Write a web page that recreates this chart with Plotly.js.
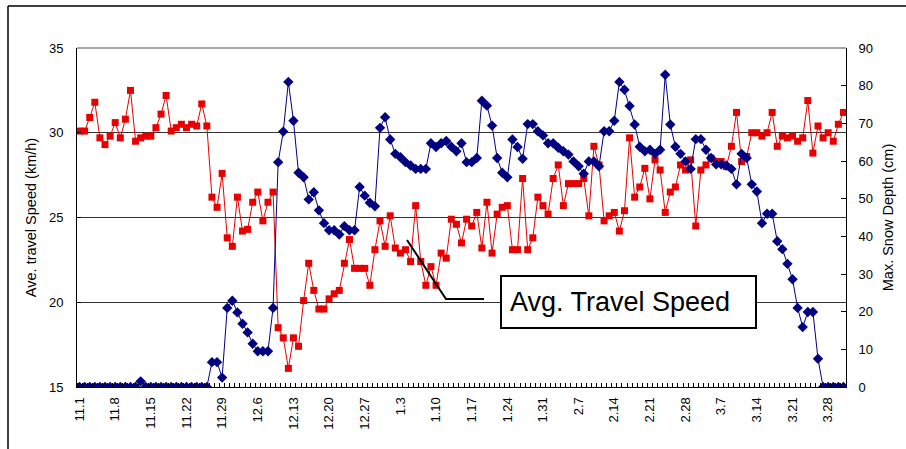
<!DOCTYPE html>
<html>
<head>
<meta charset="utf-8">
<script src="https://cdn.plot.ly/plotly-3.0.1.min.js"></script>
<style>
  html, body { margin: 0; padding: 0; background: #fff; }
  #chart { width: 906px; height: 449px; }
</style>
</head>
<body>
<div id="chart"></div>
<script>
// Dates (month.day), 1 Nov – 31 Mar
const categories = [
  "11.1","11.2","11.3","11.4","11.5","11.6","11.7","11.8","11.9","11.10",
  "11.11","11.12","11.13","11.14","11.15","11.16","11.17","11.18","11.19","11.20",
  "11.21","11.22","11.23","11.24","11.25","11.26","11.27","11.28","11.29","11.30",
  "12.1","12.2","12.3","12.4","12.5","12.6","12.7","12.8","12.9","12.10",
  "12.11","12.12","12.13","12.14","12.15","12.16","12.17","12.18","12.19","12.20",
  "12.21","12.22","12.23","12.24","12.25","12.26","12.27","12.28","12.29","12.30","12.31",
  "1.1","1.2","1.3","1.4","1.5","1.6","1.7","1.8","1.9","1.10",
  "1.11","1.12","1.13","1.14","1.15","1.16","1.17","1.18","1.19","1.20",
  "1.21","1.22","1.23","1.24","1.25","1.26","1.27","1.28","1.29","1.30","1.31",
  "2.1","2.2","2.3","2.4","2.5","2.6","2.7","2.8","2.9","2.10",
  "2.11","2.12","2.13","2.14","2.15","2.16","2.17","2.18","2.19","2.20",
  "2.21","2.22","2.23","2.24","2.25","2.26","2.27","2.28",
  "3.1","3.2","3.3","3.4","3.5","3.6","3.7","3.8","3.9","3.10",
  "3.11","3.12","3.13","3.14","3.15","3.16","3.17","3.18","3.19","3.20",
  "3.21","3.22","3.23","3.24","3.25","3.26","3.27","3.28","3.29","3.30","3.31"
];

// Average travel speed (km/h), left axis
const travelSpeed = [
  30.1,30.1,30.9,31.8,29.7,29.3,29.8,30.6,29.7,30.8,
  32.5,29.5,29.7,29.8,29.8,30.3,31.1,32.2,30.1,30.3,
  30.5,30.3,30.5,30.4,31.7,30.4,26.2,25.6,27.6,23.8,
  23.3,26.2,24.2,24.3,25.9,26.5,24.8,25.9,26.5,18.5,
  17.9,16.1,17.9,17.4,20.1,22.3,20.7,19.6,19.6,20.2,
  20.5,20.7,22.3,23.7,22.0,22.0,22.0,21.0,23.1,24.8,
  23.3,25.1,23.2,22.9,23.1,22.4,25.7,22.4,21.0,22.1,
  21.0,22.9,22.6,24.9,24.6,23.5,24.9,24.5,25.3,23.2,
  25.9,22.9,25.2,25.6,25.7,23.1,23.1,27.3,23.1,23.8,
  26.2,25.7,25.2,27.3,28.1,25.7,27.0,27.0,27.0,27.3,
  25.1,29.2,28.1,24.8,25.1,25.3,24.2,25.4,29.7,26.2,
  26.8,27.9,26.1,28.4,27.8,25.3,26.5,26.8,28.1,27.8,
  28.4,24.5,27.8,28.1,28.5,28.3,28.3,28.0,29.2,31.2,
  28.3,28.6,30.0,30.0,29.8,30.0,31.2,29.2,29.8,29.7,
  29.8,29.5,29.7,31.9,28.8,30.4,29.7,30.0,29.5,30.5,
  31.2
];

// Maximum snow depth (cm), right axis
const snowDepth = [
  0,0,0,0,0,0,0,0,0,0,
  0,0,1.5,0,0,0,0,0,0,0,
  0,0,0,0,0,0,6.6,6.6,2.5,21.0,
  22.9,19.8,16.8,14.5,11.5,9.5,9.5,9.5,21.0,59.7,
  67.8,81.0,70.7,56.9,55.7,49.8,51.7,46.9,43.5,41.6,
  41.6,40.5,42.7,41.6,41.6,53.1,50.8,48.9,48.0,68.8,
  71.6,65.7,61.9,61.0,59.7,58.8,57.9,57.9,57.9,64.7,
  63.7,64.7,65.3,63.8,62.6,64.7,59.7,59.7,60.8,76.0,
  74.7,69.4,60.8,56.9,55.7,65.7,63.7,60.6,69.8,69.8,
  67.9,66.8,64.7,64.7,63.5,62.6,61.7,59.9,58.6,56.6,
  59.9,59.9,58.6,67.9,67.9,70.7,81.0,78.9,74.6,69.7,
  63.8,62.6,63.0,61.9,63.0,82.9,69.7,63.8,61.9,59.9,
  57.9,65.8,65.8,63.0,60.8,59.1,59.1,58.8,57.9,53.8,
  61.9,60.8,53.8,51.9,43.5,46.0,46.0,38.7,36.6,32.7,
  28.6,21.0,15.9,19.9,19.9,7.5,0,0,0,0,
  0
];

// Category labels shown on the x axis
const tickLabels = ["11.1","11.8","11.15","11.22","11.29","12.6","12.13","12.20","12.27",
  "1.3","1.10","1.17","1.24","1.31","2.7","2.14","2.21","2.28","3.7","3.14","3.21","3.28"];

const leftTitle = "Ave. travel Speed (km/h)";
const rightTitle = "Max. Snow Depth (cm)";
const calloutText = "Avg. Travel Speed";

const xIdx = categories.map((c, i) => i);
const tickIdx = tickLabels.map(t => categories.indexOf(t));

const FONT = "Liberation Sans, Arial, sans-serif";

const traces = [
  {
    x: xIdx, y: travelSpeed, yaxis: "y", type: "scatter", mode: "lines+markers",
    name: "Avg. Travel Speed",
    line: { color: "#e60000", width: 1 },
    marker: { symbol: "square", size: 7, color: "#e60000" },
    hoverinfo: "skip"
  },
  {
    x: xIdx, y: snowDepth, yaxis: "y2", type: "scatter", mode: "lines+markers",
    name: "Max. Snow Depth",
    line: { color: "#000080", width: 1 },
    marker: { symbol: "diamond", size: 8, color: "#000080" },
    hoverinfo: "skip"
  }
];

// helper: pixel -> paper coords (plot area 77..846 x, 48..387 y)
const L = 77, R = 846, T = 48, B = 387;
const px = v => (v - L) / (R - L);
const py = v => (B - v) / (B - T);

const layout = {
  width: 906, height: 449,
  margin: { l: L, r: 906 - R, t: T, b: 449 - B, pad: 0 },
  paper_bgcolor: "#fff", plot_bgcolor: "#fff",
  showlegend: false,
  font: { family: FONT, size: 13, color: "#000" },
  xaxis: {
    type: "linear", range: [-0.5, categories.length - 0.5],
    tickmode: "array", tickvals: tickIdx, ticktext: tickLabels,
    tickangle: -90, tickfont: { size: 13, family: FONT },
    ticklabelstandoff: 4,
    ticks: "", showgrid: false, zeroline: false,
    showline: true, linecolor: "#000", linewidth: 1,
    minor: { tickmode: "linear", tick0: -0.5, dtick: 1, ticks: "inside", ticklen: 4, tickcolor: "#000", tickwidth: 1, showgrid: false },
    fixedrange: true
  },
  yaxis: {
    range: [15, 35], dtick: 5, tick0: 15,
    showgrid: true, gridcolor: "#333", gridwidth: 1,
    zeroline: false, showline: true, linecolor: "#000", linewidth: 1,
    ticks: "inside", ticklen: 4, tickcolor: "#000",
    ticklabelstandoff: 10,
    tickfont: { size: 13, family: FONT },
    title: { text: leftTitle, font: { size: 14.5, family: FONT }, standoff: 8 },
    fixedrange: true
  },
  yaxis2: {
    overlaying: "y", side: "right",
    range: [0, 90], dtick: 10, tick0: 0,
    showgrid: false, zeroline: false, showline: true, linecolor: "#000", linewidth: 1,
    ticks: "inside", ticklen: 5, tickcolor: "#000",
    ticklabelstandoff: 9,
    tickfont: { size: 13, family: FONT },
    title: { text: rightTitle, font: { size: 14.5, family: FONT }, standoff: 10 },
    fixedrange: true
  },
  shapes: [
    // top border of plot area
    { type: "line", xref: "paper", yref: "paper", x0: 0, x1: 1, y0: 1, y1: 1, line: { color: "#888", width: 1.5 } },
    // outer chart frame (left + top)
    { type: "line", xref: "paper", yref: "paper", x0: px(8), x1: px(8), y0: py(6), y1: py(452), line: { color: "#000", width: 1.5 } },
    { type: "line", xref: "paper", yref: "paper", x0: px(8), x1: px(910), y0: py(6), y1: py(6), line: { color: "#000", width: 1.5 } },
    // callout leader
    { type: "path", xref: "paper", yref: "paper",
      path: "M " + px(407) + " " + py(240) + " L " + px(446) + " " + py(299) + " L " + px(484) + " " + py(299),
      line: { color: "#000", width: 2 } }
  ],
  annotations: [
    {
      xref: "paper", yref: "paper", x: px(628.5), y: py(302), xanchor: "center", yanchor: "middle",
      text: calloutText, showarrow: false, align: "left",
      font: { size: 27, family: FONT, color: "#000" },
      bgcolor: "#fff", bordercolor: "#000", borderwidth: 2, borderpad: 8,
      width: 237, height: 34
    }
  ]
};

Plotly.newPlot("chart", traces, layout, { staticPlot: true, displayModeBar: false });
</script>
</body>
</html>
